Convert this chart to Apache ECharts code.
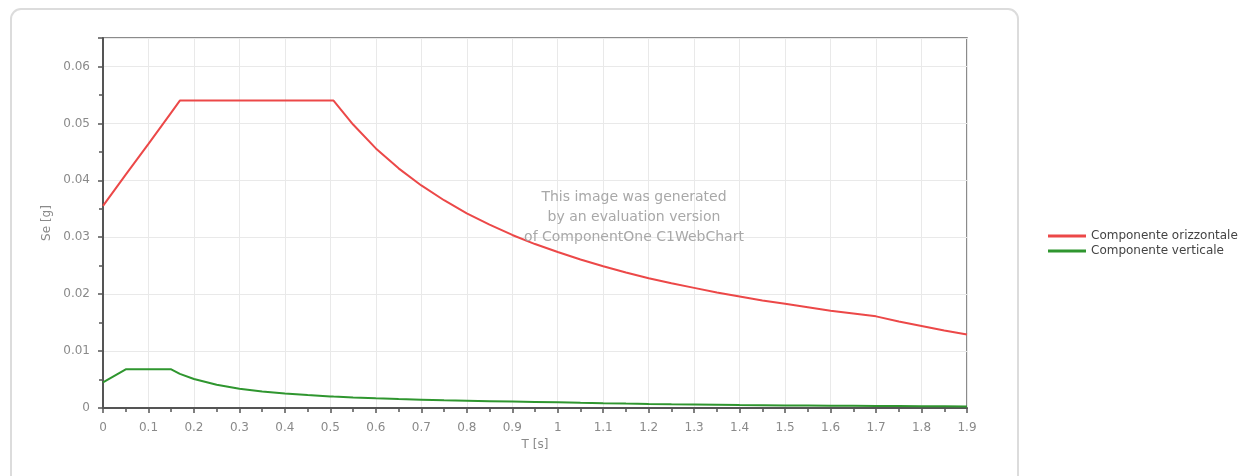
<!DOCTYPE html>
<html>
<head>
<meta charset="utf-8">
<title>Spettro di risposta elastico</title>
<script src="https://cdn.jsdelivr.net/npm/echarts@6/dist/echarts.min.js"></script>
<style>
  html, body { margin: 0; padding: 0; background: #ffffff; }
  #chart { width: 1253px; height: 476px; }
</style>
</head>
<body>
<div id="chart"></div>
<script>
// Periods T [s] at which the spectra are sampled
const periods = [
  0, 0.05, 0.1, 0.15, 0.169, 0.2, 0.25, 0.3, 0.35, 0.4, 0.45, 0.5, 0.507,
  0.55, 0.6, 0.65, 0.7, 0.75, 0.8, 0.85, 0.9, 0.95, 1.0,
  1.05, 1.1, 1.15, 1.2, 1.25, 1.3, 1.35, 1.4, 1.45, 1.5,
  1.55, 1.6, 1.65, 1.7, 1.75, 1.8, 1.85, 1.9
];

// Horizontal component Se [g]
const seOrizzontale = [
  0.0355, 0.0410, 0.0464, 0.0519, 0.0540, 0.0540, 0.0540, 0.0540, 0.0540, 0.0540, 0.0540, 0.0540, 0.0540,
  0.0498, 0.0456, 0.0421, 0.0391, 0.0365, 0.0342, 0.0322, 0.0304, 0.0288, 0.0274,
  0.0261, 0.0249, 0.0238, 0.0228, 0.0219, 0.0211, 0.0203, 0.0196, 0.0189, 0.0183,
  0.0177, 0.0171, 0.0166, 0.0161, 0.0152, 0.0144, 0.0136, 0.0129
];

// Vertical component Se [g]
const seVerticale = [
  0.0045, 0.0068, 0.0068, 0.0068, 0.0060, 0.0051, 0.0041, 0.0034, 0.0029, 0.00255, 0.00227, 0.00204, 0.00201,
  0.00185, 0.0017, 0.00157, 0.00146, 0.00136, 0.00128, 0.0012, 0.00113, 0.00107, 0.00102,
  0.000925, 0.000843, 0.000771, 0.000708, 0.000653, 0.000604, 0.00056, 0.00052, 0.000485, 0.000453,
  0.000425, 0.000398, 0.000375, 0.000353, 0.000333, 0.000315, 0.000298, 0.000283
];

const seriesNames = ['Componente orizzontale', 'Componente verticale'];
const seriesColors = ['#ec4848', '#2f962f'];
const watermarkLines = [
  'This image was generated',
  'by an evaluation version',
  'of ComponentOne C1WebChart'
];

const toPairs = (ys) => periods.map((t, i) => [t, ys[i]]);

const chart = echarts.init(document.getElementById('chart'), null, { renderer: 'canvas' });

const FONT = '"DejaVu Sans", Verdana, sans-serif';
const labelStyle = { color: '#8a8a8a', fontSize: 12, fontFamily: FONT };

chart.setOption({
  animation: false,
  backgroundColor: '#ffffff',
  graphic: [
    {
      type: 'rect',
      left: 10, top: 8, z: -10, silent: true,
      shape: { width: 1007, height: 490, r: 10 },
      style: { fill: '#ffffff', stroke: '#dcdcdc', lineWidth: 2 }
    },
    {
      type: 'text',
      x: 634, y: 187, z: 50, silent: true,
      style: {
        text: watermarkLines.join('\n'),
        fill: '#a8a8a8',
        font: '14px ' + FONT,
        align: 'center',
        verticalAlign: 'top',
        lineHeight: 20
      }
    }
  ],
  legend: {
    orient: 'vertical',
    left: 1043,
    top: 225,
    itemWidth: 38,
    itemHeight: 3,
    itemGap: 3,
    icon: 'rect',
    textStyle: { color: '#444444', fontSize: 12, fontFamily: FONT },
    data: seriesNames
  },
  grid: {
    left: 103, top: 38, right: 286, bottom: 68,
    show: true,
    borderColor: '#666666',
    borderWidth: 1.5,
    backgroundColor: 'transparent'
  },
  xAxis: {
    type: 'value',
    min: 0, max: 1.9, interval: 0.1,
    name: 'T [s]',
    nameLocation: 'middle',
    nameGap: 31,
    nameTextStyle: labelStyle,
    axisLine: { show: true, onZero: false, lineStyle: { color: '#555555', width: 2 } },
    axisTick: { show: true, length: 5, lineStyle: { color: '#555555', width: 1.5 } },
    minorTick: { show: true, splitNumber: 2, length: 4, lineStyle: { color: '#555555', width: 1.5 } },
    axisLabel: {
      ...labelStyle,
      margin: 14,
      formatter: (v) => String(Math.round(v * 10) / 10)
    },
    splitLine: { show: true, lineStyle: { color: '#e9e9e9', width: 1 } }
  },
  yAxis: {
    type: 'value',
    min: 0, max: 0.065, interval: 0.01,
    name: 'Se [g]',
    nameLocation: 'middle',
    nameGap: 45,
    nameTextStyle: labelStyle,
    axisLine: { show: true, lineStyle: { color: '#555555', width: 2 } },
    axisTick: { show: true, length: 5, lineStyle: { color: '#555555', width: 1.5 } },
    minorTick: { show: true, splitNumber: 2, length: 4, lineStyle: { color: '#555555', width: 1.5 } },
    axisLabel: {
      ...labelStyle,
      margin: 13,
      showMaxLabel: false,
      formatter: (v) => String(Math.round(v * 100) / 100)
    },
    splitLine: { show: true, lineStyle: { color: '#e9e9e9', width: 1 } }
  },
  series: [
    {
      name: seriesNames[0],
      type: 'line',
      data: toPairs(seOrizzontale),
      showSymbol: false,
      color: seriesColors[0],
      lineStyle: { color: seriesColors[0], width: 2 },
      z: 3
    },
    {
      name: seriesNames[1],
      type: 'line',
      data: toPairs(seVerticale),
      showSymbol: false,
      color: seriesColors[1],
      lineStyle: { color: seriesColors[1], width: 2 },
      z: 3
    }
  ]
});
</script>
</body>
</html>
